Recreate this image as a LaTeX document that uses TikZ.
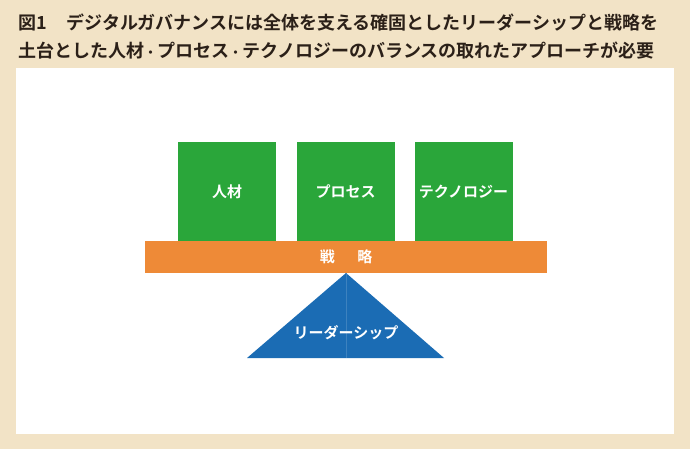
\documentclass[tikz,border=0pt]{standalone}
\usepackage{fontspec}
\setmainfont{Noto Sans CJK JP}[BoldFont={* Bold}]
\definecolor{bgbeige}{HTML}{F2E3C6}
\definecolor{pillar}{HTML}{2AA63A}
\definecolor{beam}{HTML}{EE8A37}
\definecolor{base}{HTML}{1B6CB4}
\definecolor{titletext}{HTML}{2B2018}
\begin{document}
\begin{tikzpicture}[x=1pt,y=-1pt,pillarbox/.style={fill=pillar,minimum width=98pt,minimum height=99pt,inner sep=0pt,text=white,font=\bfseries\fontsize{15}{17}\selectfont},title/.style={anchor=west,text=titletext,font=\bfseries\fontsize{18}{20}\selectfont,inner sep=0pt}]
\fill[bgbeige] (0,0) rectangle (690,449);
\fill[white] (16,68) rectangle (674,434);
\node[title] (t1) at (18,23) {図1\hspace{1.1em}デジタルガバナンスには全体を支える確固としたリーダーシップと戦略を};
\node[title] (t2) at (18,51) {土台とした人材{\fontsize{13}{15}\selectfont ・}プロセス{\fontsize{13}{15}\selectfont ・}テクノロジーのバランスの取れたアプローチが必要};
\node[pillarbox] (hr) at (227,191.5) {人材};
\node[pillarbox] (pr) at (345.5,191.5) {プロセス};
\node[pillarbox] (te) at (463.5,191.5) {テクノロジー};
\fill[beam] (145,241) rectangle (547,273);
\node[text=white,font=\bfseries\fontsize{15}{17}\selectfont] (st) at (346,257) {戦\hspace{1.5em}略};
\fill[base] (346,273) -- (444,358) -- (247,358) -- cycle;
\draw[base!85!white,line width=0.5pt] (346,273) -- (346,358);
\node[text=white,font=\bfseries\fontsize{15}{17}\selectfont] (ld) at (346,333) {リーダーシップ};
\end{tikzpicture}
\end{document}
